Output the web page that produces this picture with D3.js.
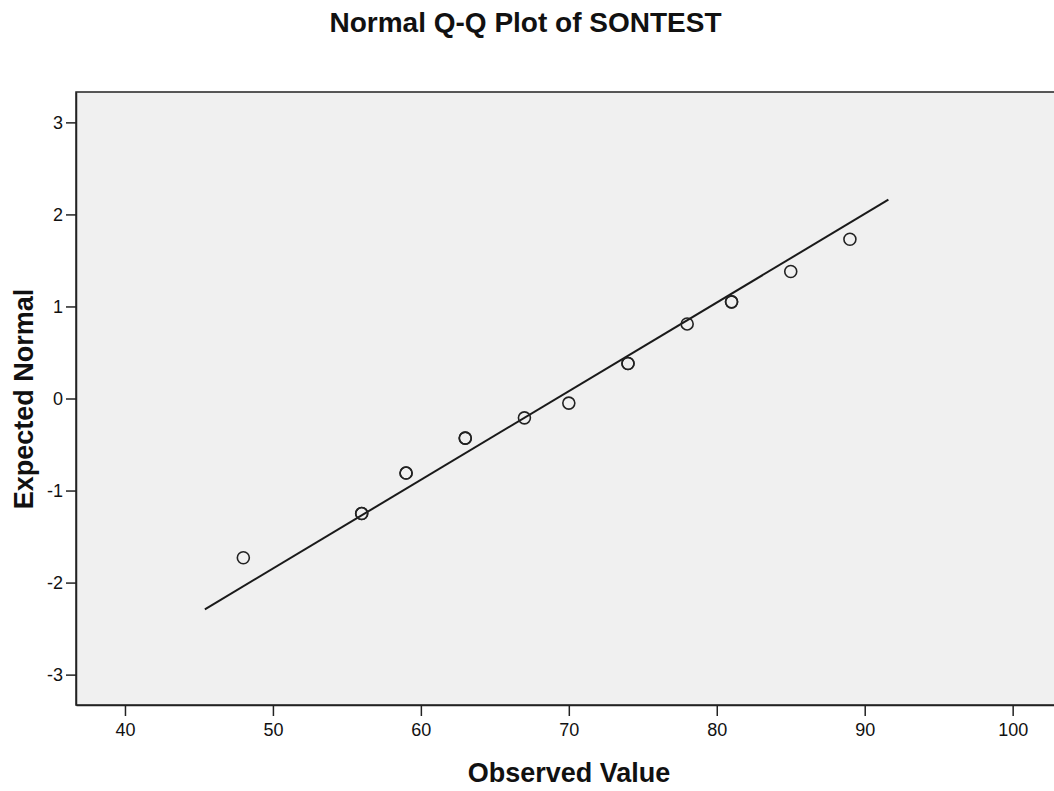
<!DOCTYPE html>
<html>
<head>
<meta charset="utf-8">
<script src="https://cdn.jsdelivr.net/npm/d3@7"></script>
<style>
  html, body { margin: 0; padding: 0; background: #fff; }
  svg { display: block; }
  text { font-family: "Liberation Sans", Arial, sans-serif; fill: #111; }
</style>
</head>
<body>
<svg id="chart" width="1054" height="791"></svg>
<script>
// ---- data ----
const title = "Normal Q-Q Plot of SONTEST";
const xLabel = "Observed Value";
const yLabel = "Expected Normal";
const observed = [48, 56, 59, 63, 67, 70, 74, 78, 81, 85, 89];
const expectedNormal = [-1.73, -1.25, -0.81, -0.43, -0.21, -0.05, 0.38, 0.81, 1.05, 1.38, 1.73];
const caseCounts = [1, 2, 2, 2, 1, 1, 2, 1, 2, 1, 1];
const lineX = [45.4, 91.6];
const lineY = [-2.29, 2.16];
const xTicks = [40, 50, 60, 70, 80, 90, 100];
const yTicks = [-3, -2, -1, 0, 1, 2, 3];

// ---- layout ----
const svg = d3.select("#chart");
const mLeft = 76, mTop = 92, mRight = 1060, mBottom = 705;

const x = d3.scaleLinear().domain([36.69, 103.2]).range([mLeft, mRight]);
const y = d3.scaleLinear().domain([-3.33, 3.33]).range([mBottom, mTop]);

// plot background
svg.append("rect")
  .attr("x", mLeft).attr("y", mTop)
  .attr("width", mRight - mLeft).attr("height", mBottom - mTop)
  .attr("fill", "#f0f0f0")
  .attr("stroke", "#222").attr("stroke-width", 1.5);

// axes
const fmt = d => String(d);
const xAxis = svg.append("g")
  .attr("transform", `translate(0,${mBottom})`)
  .call(d3.axisBottom(x).tickValues(xTicks).tickSizeInner(11).tickSizeOuter(0).tickPadding(7).tickFormat(fmt));
const yAxis = svg.append("g")
  .attr("transform", `translate(${mLeft},0)`)
  .call(d3.axisLeft(y).tickValues(yTicks).tickSizeInner(10).tickSizeOuter(0).tickPadding(3).tickFormat(fmt));

[xAxis, yAxis].forEach(g => {
  g.select(".domain").attr("stroke", "#222").attr("stroke-width", 1.5);
  g.selectAll(".tick line").attr("stroke", "#222").attr("stroke-width", 1.5);
  g.selectAll(".tick text")
    .attr("fill", "#111")
    .style("font-family", '"Liberation Sans", Arial, sans-serif')
    .style("font-size", "18px");
});

// fitted line
svg.append("line")
  .attr("x1", x(lineX[0])).attr("y1", y(lineY[0]))
  .attr("x2", x(lineX[1])).attr("y2", y(lineY[1]))
  .attr("stroke", "#1a1a1a").attr("stroke-width", 2);

// points (tied cases drawn once per case)
const pts = [];
observed.forEach((v, i) => {
  for (let k = 0; k < caseCounts[i]; k++) pts.push({ v, z: expectedNormal[i] });
});
svg.append("g").selectAll("circle")
  .data(pts)
  .join("circle")
  .attr("cx", d => x(d.v))
  .attr("cy", d => y(d.z))
  .attr("r", 6)
  .attr("fill", "none")
  .attr("stroke", "#222")
  .attr("stroke-width", 1.6);

// title
svg.append("text")
  .attr("x", 525.5).attr("y", 32)
  .attr("text-anchor", "middle")
  .style("font-size", "28px").style("font-weight", "bold")
  .text(title);

// x label
svg.append("text")
  .attr("x", 569).attr("y", 782)
  .attr("text-anchor", "middle")
  .style("font-size", "27px").style("font-weight", "bold")
  .text(xLabel);

// y label
svg.append("text")
  .attr("transform", `translate(33,${399}) rotate(-90)`)
  .attr("text-anchor", "middle")
  .style("font-size", "27px").style("font-weight", "bold")
  .text(yLabel);
</script>
</body>
</html>
